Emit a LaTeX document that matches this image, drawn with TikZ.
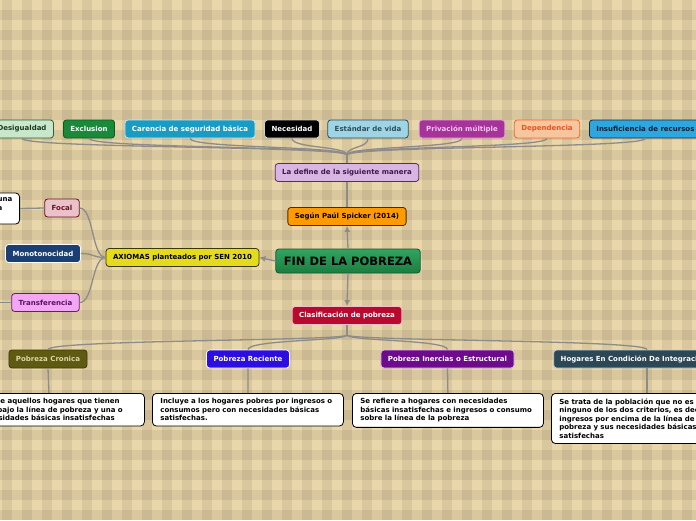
\documentclass[tikz,border=0pt]{standalone}
\usepackage{fontspec}
\setmainfont{DejaVu Sans}
\usetikzlibrary{arrows.meta}

\definecolor{bgtan}{HTML}{E9D6AA}
\definecolor{linkgray}{HTML}{8E8C88}
\definecolor{desigfill}{HTML}{C9E8CB}\definecolor{desigline}{HTML}{2E5E3A}\definecolor{desigtext}{HTML}{1E3A22}
\definecolor{exclfill}{HTML}{1A8A3A}\definecolor{exclline}{HTML}{0E5A22}
\definecolor{carenfill}{HTML}{1A9BC4}\definecolor{carenline}{HTML}{C8E8F2}
\definecolor{necesline}{HTML}{D0D0D0}
\definecolor{estanfill}{HTML}{9ED4E4}\definecolor{estanline}{HTML}{2E4E5A}
\definecolor{privfill}{HTML}{A53399}\definecolor{privline}{HTML}{E8A0E0}\definecolor{privtext}{HTML}{F2C6EE}
\definecolor{depenfill}{HTML}{F8C69E}\definecolor{depenline}{HTML}{F26A2E}\definecolor{depentext}{HTML}{F2501E}
\definecolor{insuffill}{HTML}{2EA6E0}\definecolor{insufline}{HTML}{0D3040}\definecolor{insuftext}{HTML}{0D2030}
\definecolor{ladeffill}{HTML}{D9B5E3}\definecolor{ladefline}{HTML}{5A2A6A}\definecolor{ladeftext}{HTML}{3A1A4A}
\definecolor{spickfill}{HTML}{FF9A00}\definecolor{spickline}{HTML}{4A2A00}
\definecolor{fintop}{HTML}{32A462}\definecolor{finbot}{HTML}{1A7E40}\definecolor{finline}{HTML}{0E5A2A}
\definecolor{axiomfill}{HTML}{E6DA1C}\definecolor{axiomline}{HTML}{3A3A00}
\definecolor{clasiffill}{HTML}{B80A2E}\definecolor{clasifline}{HTML}{F0C0C8}
\definecolor{focalfill}{HTML}{E9C2CA}\definecolor{focalline}{HTML}{6B1020}
\definecolor{monotfill}{HTML}{1C3F73}
\definecolor{transffill}{HTML}{F2A6F4}\definecolor{transfline}{HTML}{6B1A70}\definecolor{transftext}{HTML}{5A1060}
\definecolor{cronfill}{HTML}{5F5A12}\definecolor{cronline}{HTML}{3F3A00}\definecolor{crontext}{HTML}{DDD5A5}
\definecolor{reciefill}{HTML}{2C0EE0}
\definecolor{inercfill}{HTML}{6E0A8C}\definecolor{inercline}{HTML}{E0C0F0}
\definecolor{hogarfill}{HTML}{2C4756}\definecolor{hogarline}{HTML}{C0D0D8}

\begin{document}
\begin{tikzpicture}[x=1pt,y=-1pt,
  lbl/.style={draw,rounded corners=3pt,line width=0.8pt,minimum height=18pt,
    inner xsep=7pt,inner ysep=2pt,font=\fontsize{7}{8}\selectfont\bfseries},
  desc/.style={draw=black,fill=white,rounded corners=4pt,line width=0.8pt,
    text width=175pt,align=left,inner xsep=8pt,inner ysep=5pt,
    font=\fontsize{7}{8.6}\selectfont\bfseries},
  link/.style={draw=linkgray,line width=1.3pt},
  arr/.style={link,-{Latex[length=6pt,width=6pt]}}]
  \clip (0,0) rectangle (696,520);
  % plaid background
  \fill[bgtan] (0,0) rectangle (696,520);
  \foreach \x in {0,20,...,680} \fill[black,opacity=.065] (\x+2,0) rectangle (\x+12,520);
  \foreach \y in {0,20,...,500} \fill[black,opacity=.065] (0,\y+10) rectangle (696,\y+20);

  \node[lbl,fill=desigfill,draw=desigline,text=desigtext] (desig) at (22,129) {Desigualdad};
  \node[lbl,fill=exclfill,draw=exclline,text=white] (excl) at (89,129) {Exclusion};
  \node[lbl,fill=carenfill,draw=carenline,text=white] (caren) at (190,129) {Carencia de seguridad básica};
  \node[lbl,fill=black,draw=necesline,text=white] (neces) at (292,129) {Necesidad};
  \node[lbl,fill=estanfill,draw=estanline,text=estanline] (estan) at (368,129) {Estándar de vida};
  \node[lbl,fill=privfill,draw=privline,text=privtext] (priv) at (462,129) {Privación múltiple};
  \node[lbl,fill=depenfill,draw=depenline,text=depentext] (depen) at (547,129) {Dependencia};
  \node[lbl,fill=insuffill,draw=insufline,text=insuftext,anchor=west] (insuf) at (589,129) {Insuficiencia de recursos};
  \coordinate (tophub) at (347,155);
  \foreach \n in {desig,excl,caren,neces,estan,priv,depen,insuf}
    \draw[link] (\n.south) .. controls +(0,10) and (347,146) .. (tophub);

  \node[lbl,fill=ladeffill,draw=ladefline,text=ladeftext] (ladef) at (347,172.5) {La define de la siguiente manera};
  \node[lbl,fill=spickfill,draw=spickline,text=black] (spick) at (347,216.5) {Según Paúl Spicker (2014)};
  \node[draw=finline,line width=0.8pt,rounded corners=3pt,top color=fintop,bottom color=finbot,
    minimum height=24pt,inner xsep=8pt,font=\fontsize{11.5}{13}\selectfont\bfseries,text=black] (fin) at (348,261) {FIN DE LA POBREZA};
  \node[lbl,fill=axiomfill,draw=axiomline,text=black] (axiom) at (182.5,257.5) {AXIOMAS planteados por SEN 2010};
  \node[lbl,fill=clasiffill,draw=clasifline,text=white] (clasif) at (347,315.5) {Clasificación de pobreza};
  \draw[link] (tophub) -- (ladef.north);
  \draw[link] (ladef.south) -- (spick.north);
  \draw[arr] (fin.north) -- (spick.south);
  \draw[arr] (fin.west) -- (axiom.east);
  \draw[arr] (fin.south) -- (clasif.north);

  \node[lbl,fill=focalfill,draw=focalline,text=focalline] (focal) at (62,208) {Focal};
  \node[lbl,fill=monotfill,draw=white,text=white] (monot) at (43,253.5) {Monotonocidad};
  \node[lbl,fill=transffill,draw=transfline,text=transftext] (transf) at (45.5,302.5) {Transferencia};
  \node[desc,text width=14pt,anchor=east] (focalbox) at (20,208.5) {una\\a\\\mbox{}};
  \coordinate (transfout) at (-20,302.5);
  \foreach \n in {focal,monot,transf}
    \draw[link] (axiom.west) .. controls +(-14,0) and +(14,0) .. (\n.east);
  \draw[link] (focal.west) -- (focalbox.east);
  \draw[link] (transf.west) -- (transfout);

  \node[lbl,fill=cronfill,draw=cronline,text=crontext] (cron) at (48,359) {Pobreza Cronica};
  \node[lbl,fill=reciefill,draw=white,text=white] (recie) at (248,359) {Pobreza Reciente};
  \node[lbl,fill=inercfill,draw=inercline,text=white] (inerc) at (447.5,359) {Pobreza Inercias o Estructural};
  \node[lbl,fill=hogarfill,draw=hogarline,text=white] (hogar) at (647,359) {Hogares En Condición De Integración Social};
  \coordinate (bothub) at (347,335);
  \draw[link] (clasif.south) -- (bothub);
  \foreach \n in {cron,recie,inerc,hogar}
    \draw[link] (bothub) .. controls +(0,6) and +(0,-10) .. (\n.north);

  \node[desc,anchor=north west] (dcron) at (-47,393)
    {Se trata de aquellos hogares que tienen\\ingresos bajo la línea de pobreza y una o\\más necesidades básicas insatisfechas};
  \node[desc,anchor=north west] (drecie) at (152,393)
    {Incluye a los hogares pobres por ingresos o\\consumos pero con necesidades básicas\\satisfechas.};
  \node[desc,anchor=north west] (dinerc) at (352,393)
    {Se refiere a hogares con necesidades\\básicas insatisfechas e ingresos o consumo\\sobre la línea de la pobreza};
  \node[desc,text width=200pt,anchor=north west] (dhogar) at (551,393)
    {Se trata de la población que no es pobre por\\ninguno de los dos criterios, es decir, tiene\\ingresos por encima de la línea de\\pobreza y sus necesidades básicas\\satisfechas};
  \draw[link] (cron.south) -- (dcron.north);
  \draw[link] (recie.south) -- (drecie.north);
  \draw[link] (inerc.south) -- (dinerc.north);
  \draw[link] (hogar.south) -- (hogar.south |- dhogar.north);
\end{tikzpicture}
\end{document}
